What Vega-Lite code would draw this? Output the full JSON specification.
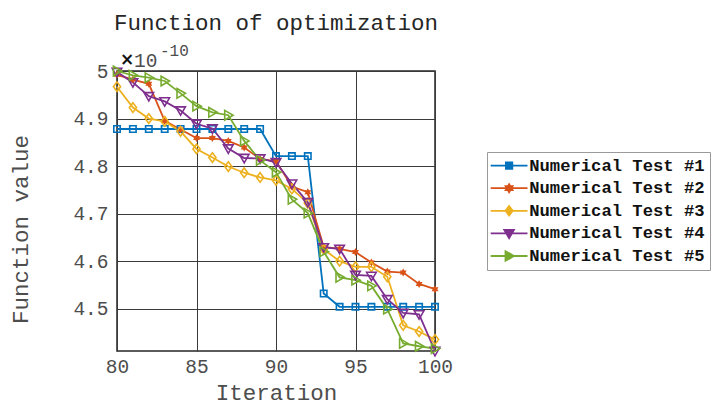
{
  "$schema": "https://vega.github.io/schema/vega-lite/v6.json",
  "width": 318,
  "height": 280,
  "autosize": {"type": "none"},
  "padding": {"left": 117, "top": 71, "right": 285, "bottom": 56},
  "background": "white",
  "title": {
    "text": "Function of optimization",
    "font": "Liberation Mono",
    "fontSize": 22.5,
    "fontWeight": "normal",
    "color": "#262626",
    "anchor": "middle",
    "offset": 9
  },
  "data": {
    "values": [
      {"iteration": 80, "series": "Numerical Test #1", "value": 4.878e-10},
      {"iteration": 81, "series": "Numerical Test #1", "value": 4.878e-10},
      {"iteration": 82, "series": "Numerical Test #1", "value": 4.878e-10},
      {"iteration": 83, "series": "Numerical Test #1", "value": 4.878e-10},
      {"iteration": 84, "series": "Numerical Test #1", "value": 4.878e-10},
      {"iteration": 85, "series": "Numerical Test #1", "value": 4.878e-10},
      {"iteration": 86, "series": "Numerical Test #1", "value": 4.878e-10},
      {"iteration": 87, "series": "Numerical Test #1", "value": 4.878e-10},
      {"iteration": 88, "series": "Numerical Test #1", "value": 4.878e-10},
      {"iteration": 89, "series": "Numerical Test #1", "value": 4.878e-10},
      {"iteration": 90, "series": "Numerical Test #1", "value": 4.821e-10},
      {"iteration": 91, "series": "Numerical Test #1", "value": 4.821e-10},
      {"iteration": 92, "series": "Numerical Test #1", "value": 4.821e-10},
      {"iteration": 93, "series": "Numerical Test #1", "value": 4.532e-10},
      {"iteration": 94, "series": "Numerical Test #1", "value": 4.504e-10},
      {"iteration": 95, "series": "Numerical Test #1", "value": 4.504e-10},
      {"iteration": 96, "series": "Numerical Test #1", "value": 4.504e-10},
      {"iteration": 97, "series": "Numerical Test #1", "value": 4.504e-10},
      {"iteration": 98, "series": "Numerical Test #1", "value": 4.504e-10},
      {"iteration": 99, "series": "Numerical Test #1", "value": 4.504e-10},
      {"iteration": 100, "series": "Numerical Test #1", "value": 4.504e-10},

      {"iteration": 80, "series": "Numerical Test #2", "value": 4.992e-10},
      {"iteration": 81, "series": "Numerical Test #2", "value": 4.982e-10},
      {"iteration": 82, "series": "Numerical Test #2", "value": 4.973e-10},
      {"iteration": 83, "series": "Numerical Test #2", "value": 4.895e-10},
      {"iteration": 84, "series": "Numerical Test #2", "value": 4.877e-10},
      {"iteration": 85, "series": "Numerical Test #2", "value": 4.859e-10},
      {"iteration": 86, "series": "Numerical Test #2", "value": 4.859e-10},
      {"iteration": 87, "series": "Numerical Test #2", "value": 4.853e-10},
      {"iteration": 88, "series": "Numerical Test #2", "value": 4.839e-10},
      {"iteration": 89, "series": "Numerical Test #2", "value": 4.815e-10},
      {"iteration": 90, "series": "Numerical Test #2", "value": 4.810e-10},
      {"iteration": 91, "series": "Numerical Test #2", "value": 4.757e-10},
      {"iteration": 92, "series": "Numerical Test #2", "value": 4.745e-10},
      {"iteration": 93, "series": "Numerical Test #2", "value": 4.630e-10},
      {"iteration": 94, "series": "Numerical Test #2", "value": 4.626e-10},
      {"iteration": 95, "series": "Numerical Test #2", "value": 4.619e-10},
      {"iteration": 96, "series": "Numerical Test #2", "value": 4.597e-10},
      {"iteration": 97, "series": "Numerical Test #2", "value": 4.578e-10},
      {"iteration": 98, "series": "Numerical Test #2", "value": 4.576e-10},
      {"iteration": 99, "series": "Numerical Test #2", "value": 4.552e-10},
      {"iteration": 100, "series": "Numerical Test #2", "value": 4.541e-10},

      {"iteration": 80, "series": "Numerical Test #3", "value": 4.967e-10},
      {"iteration": 81, "series": "Numerical Test #3", "value": 4.923e-10},
      {"iteration": 82, "series": "Numerical Test #3", "value": 4.900e-10},
      {"iteration": 83, "series": "Numerical Test #3", "value": 4.894e-10},
      {"iteration": 84, "series": "Numerical Test #3", "value": 4.873e-10},
      {"iteration": 85, "series": "Numerical Test #3", "value": 4.836e-10},
      {"iteration": 86, "series": "Numerical Test #3", "value": 4.818e-10},
      {"iteration": 87, "series": "Numerical Test #3", "value": 4.799e-10},
      {"iteration": 88, "series": "Numerical Test #3", "value": 4.786e-10},
      {"iteration": 89, "series": "Numerical Test #3", "value": 4.776e-10},
      {"iteration": 90, "series": "Numerical Test #3", "value": 4.770e-10},
      {"iteration": 91, "series": "Numerical Test #3", "value": 4.752e-10},
      {"iteration": 92, "series": "Numerical Test #3", "value": 4.722e-10},
      {"iteration": 93, "series": "Numerical Test #3", "value": 4.625e-10},
      {"iteration": 94, "series": "Numerical Test #3", "value": 4.600e-10},
      {"iteration": 95, "series": "Numerical Test #3", "value": 4.588e-10},
      {"iteration": 96, "series": "Numerical Test #3", "value": 4.588e-10},
      {"iteration": 97, "series": "Numerical Test #3", "value": 4.567e-10},
      {"iteration": 98, "series": "Numerical Test #3", "value": 4.465e-10},
      {"iteration": 99, "series": "Numerical Test #3", "value": 4.452e-10},
      {"iteration": 100, "series": "Numerical Test #3", "value": 4.435e-10},

      {"iteration": 80, "series": "Numerical Test #4", "value": 4.998e-10},
      {"iteration": 81, "series": "Numerical Test #4", "value": 4.976e-10},
      {"iteration": 82, "series": "Numerical Test #4", "value": 4.947e-10},
      {"iteration": 83, "series": "Numerical Test #4", "value": 4.936e-10},
      {"iteration": 84, "series": "Numerical Test #4", "value": 4.917e-10},
      {"iteration": 85, "series": "Numerical Test #4", "value": 4.889e-10},
      {"iteration": 86, "series": "Numerical Test #4", "value": 4.879e-10},
      {"iteration": 87, "series": "Numerical Test #4", "value": 4.837e-10},
      {"iteration": 88, "series": "Numerical Test #4", "value": 4.817e-10},
      {"iteration": 89, "series": "Numerical Test #4", "value": 4.816e-10},
      {"iteration": 90, "series": "Numerical Test #4", "value": 4.808e-10},
      {"iteration": 91, "series": "Numerical Test #4", "value": 4.763e-10},
      {"iteration": 92, "series": "Numerical Test #4", "value": 4.724e-10},
      {"iteration": 93, "series": "Numerical Test #4", "value": 4.629e-10},
      {"iteration": 94, "series": "Numerical Test #4", "value": 4.626e-10},
      {"iteration": 95, "series": "Numerical Test #4", "value": 4.571e-10},
      {"iteration": 96, "series": "Numerical Test #4", "value": 4.569e-10},
      {"iteration": 97, "series": "Numerical Test #4", "value": 4.520e-10},
      {"iteration": 98, "series": "Numerical Test #4", "value": 4.491e-10},
      {"iteration": 99, "series": "Numerical Test #4", "value": 4.488e-10},
      {"iteration": 100, "series": "Numerical Test #4", "value": 4.411e-10},

      {"iteration": 80, "series": "Numerical Test #5", "value": 5.000e-10},
      {"iteration": 81, "series": "Numerical Test #5", "value": 4.991e-10},
      {"iteration": 82, "series": "Numerical Test #5", "value": 4.986e-10},
      {"iteration": 83, "series": "Numerical Test #5", "value": 4.979e-10},
      {"iteration": 84, "series": "Numerical Test #5", "value": 4.953e-10},
      {"iteration": 85, "series": "Numerical Test #5", "value": 4.926e-10},
      {"iteration": 86, "series": "Numerical Test #5", "value": 4.913e-10},
      {"iteration": 87, "series": "Numerical Test #5", "value": 4.907e-10},
      {"iteration": 88, "series": "Numerical Test #5", "value": 4.853e-10},
      {"iteration": 89, "series": "Numerical Test #5", "value": 4.812e-10},
      {"iteration": 90, "series": "Numerical Test #5", "value": 4.787e-10},
      {"iteration": 91, "series": "Numerical Test #5", "value": 4.730e-10},
      {"iteration": 92, "series": "Numerical Test #5", "value": 4.701e-10},
      {"iteration": 93, "series": "Numerical Test #5", "value": 4.620e-10},
      {"iteration": 94, "series": "Numerical Test #5", "value": 4.566e-10},
      {"iteration": 95, "series": "Numerical Test #5", "value": 4.560e-10},
      {"iteration": 96, "series": "Numerical Test #5", "value": 4.548e-10},
      {"iteration": 97, "series": "Numerical Test #5", "value": 4.499e-10},
      {"iteration": 98, "series": "Numerical Test #5", "value": 4.427e-10},
      {"iteration": 99, "series": "Numerical Test #5", "value": 4.421e-10},
      {"iteration": 100, "series": "Numerical Test #5", "value": 4.416e-10}
    ]
  },
  "encoding": {
    "x": {
      "field": "iteration",
      "type": "quantitative",
      "scale": {"domain": [80, 100], "nice": false, "zero": false},
      "axis": {
        "title": "Iteration",
        "values": [80, 85, 90, 95, 100],
        "labelPadding": 6,
        "titlePadding": 6,
        "labelFlush": false
      }
    },
    "y": {
      "field": "value",
      "type": "quantitative",
      "scale": {"domain": [4.411e-10, 5.0e-10], "nice": false, "zero": false},
      "axis": {
        "title": "Function value",
        "values": [4.5e-10, 4.6e-10, 4.7e-10, 4.8e-10, 4.9e-10, 5.0e-10],
        "labelExpr": "format(datum.value * 1e10, '.2~f')",
        "labelPadding": 9,
        "titlePadding": 40,
        "titleY": 158,
        "labelFlush": false
      }
    },
    "color": {
      "field": "series",
      "type": "nominal",
      "scale": {
        "domain": ["Numerical Test #1", "Numerical Test #2", "Numerical Test #3", "Numerical Test #4", "Numerical Test #5"],
        "range": ["#0072BD", "#D95319", "#EDB120", "#7E2F8E", "#77AC30"]
      },
      "legend": {
        "orient": "none",
        "legendX": 370,
        "legendY": 81,
        "title": null,
        "labelFont": "Liberation Mono",
        "labelFontSize": 17.2,
        "labelFontWeight": "bold",
        "labelColor": "#111111",
        "labelLimit": 400,
        "strokeColor": "#9a9a9a",
        "fillColor": "white",
        "padding": 5,
        "rowPadding": 4.6,
        "symbolSize": 64,
        "symbolStrokeWidth": 1.8,
        "symbolOffset": 8.5,
        "labelOffset": 11.5,
        "symbolType": {
          "expr": "datum.value === 'Numerical Test #1' ? 'M-4.6,0H4.6M-0.8,-0.8H0.8V0.8H-0.8Z' : datum.value === 'Numerical Test #2' ? 'M-4.6,0H4.6M0,-1L0.289,-0.5L0.866,-0.5L0.577,0L0.866,0.5L0.289,0.5L0,1L-0.289,0.5L-0.866,0.5L-0.577,0L-0.866,-0.5L-0.289,-0.5Z' : datum.value === 'Numerical Test #3' ? 'M-4.6,0H4.6M0,-1.2L0.9,0L0,1.2L-0.9,0Z' : datum.value === 'Numerical Test #4' ? 'M-4.6,0H4.6M-1.2,-0.9H1.2L0,1.2Z' : 'M-4.6,0H4.6M-0.9,-1.2L1.2,0L-0.9,1.2Z'"
        }
      }
    }
  },
  "layer": [
    {
      "mark": {"type": "line", "strokeWidth": 1.8}
    },
    {
      "transform": [{"filter": "datum.series === 'Numerical Test #1'"}],
      "mark": {"type": "point", "filled": false, "strokeWidth": 1.6, "size": 64, "opacity": 1, "shape": "M-0.8,-0.8H0.8V0.8H-0.8Z"}
    },
    {
      "transform": [{"filter": "datum.series === 'Numerical Test #2'"}],
      "mark": {"type": "point", "filled": true, "strokeWidth": 1.2, "size": 64, "opacity": 1, "shape": "M0,-1L0.289,-0.5L0.866,-0.5L0.577,0L0.866,0.5L0.289,0.5L0,1L-0.289,0.5L-0.866,0.5L-0.577,0L-0.866,-0.5L-0.289,-0.5Z"}
    },
    {
      "transform": [{"filter": "datum.series === 'Numerical Test #3'"}],
      "mark": {"type": "point", "filled": false, "strokeWidth": 1.6, "size": 64, "opacity": 1, "shape": "M0,-1.2L0.9,0L0,1.2L-0.9,0Z"}
    },
    {
      "transform": [{"filter": "datum.series === 'Numerical Test #4'"}],
      "mark": {"type": "point", "filled": false, "strokeWidth": 1.6, "size": 64, "opacity": 1, "shape": "M-1.2,-0.9H1.2L0,1.2Z"}
    },
    {
      "transform": [{"filter": "datum.series === 'Numerical Test #5'"}],
      "mark": {"type": "point", "filled": false, "strokeWidth": 1.6, "size": 64, "opacity": 1, "shape": "M-0.9,-1.2L1.2,0L-0.9,1.2Z"}
    },
    {
      "transform": [{"filter": "datum.series === 'Numerical Test #5' && datum.iteration === 80"}],
      "mark": {"type": "text", "align": "left", "baseline": "alphabetic", "dx": 3, "dy": -6, "font": "DejaVu Sans", "fontSize": 17, "fontWeight": "bold"},
      "encoding": {
        "text": {"value": "×"},
        "color": {"value": "#111111"}
      }
    },
    {
      "transform": [{"filter": "datum.series === 'Numerical Test #5' && datum.iteration === 80"}],
      "mark": {"type": "text", "align": "left", "baseline": "alphabetic", "dx": 17, "dy": -4, "font": "Liberation Mono", "fontSize": 19.5},
      "encoding": {
        "text": {"value": "10"},
        "color": {"value": "#4d4d4d"}
      }
    },
    {
      "transform": [{"filter": "datum.series === 'Numerical Test #5' && datum.iteration === 80"}],
      "mark": {"type": "text", "align": "left", "baseline": "alphabetic", "dx": 43, "dy": -15, "font": "Liberation Mono", "fontSize": 16},
      "encoding": {
        "text": {"value": "-10"},
        "color": {"value": "#4d4d4d"}
      }
    }
  ],
  "config": {
    "view": {"stroke": "#262626", "strokeWidth": 1.5},
    "axis": {
      "labelFont": "Liberation Mono",
      "labelFontSize": 19.5,
      "labelColor": "#4d4d4d",
      "titleFont": "Liberation Mono",
      "titleFontSize": 22.5,
      "titleFontWeight": "normal",
      "titleColor": "#4d4d4d",
      "gridColor": "#3a3a3a",
      "gridWidth": 1,
      "gridOpacity": 1,
      "domain": false,
      "ticks": false
    }
  }
}
